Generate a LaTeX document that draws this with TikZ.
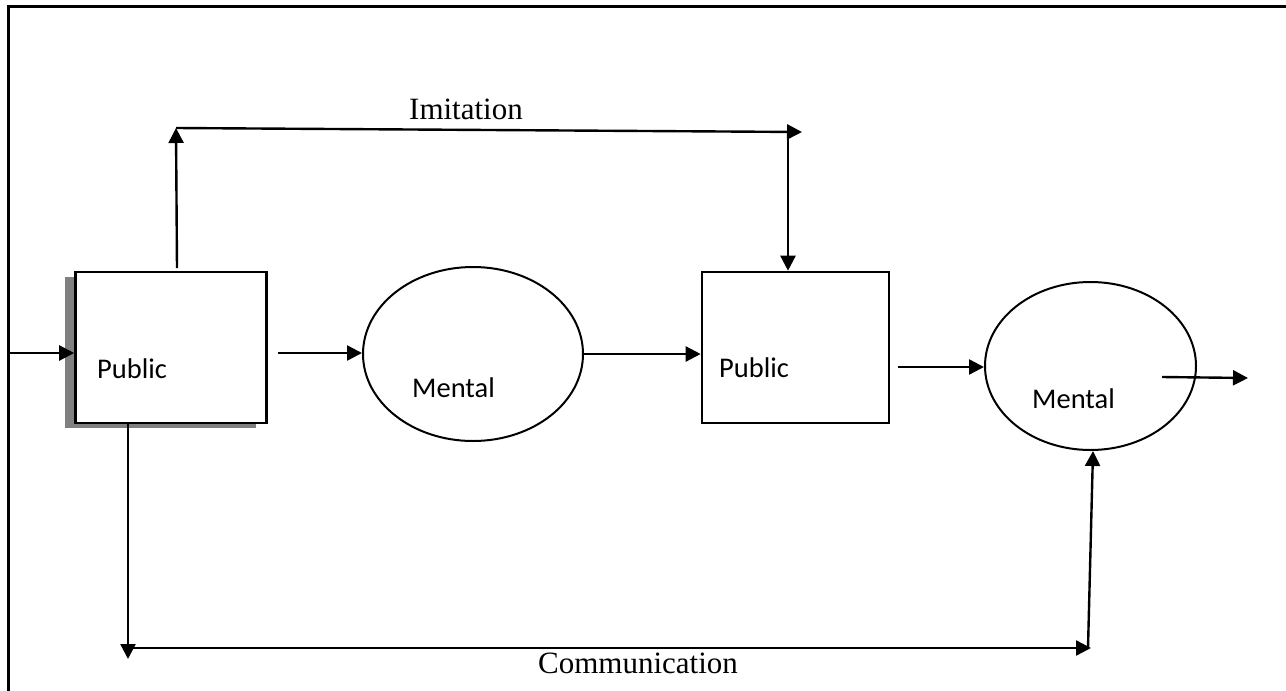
\documentclass[tikz,border=0pt]{standalone}
\usepackage{fontspec}
\setmainfont{Liberation Serif}
\newfontfamily\carlfont{Carlito}
\usetikzlibrary{arrows.meta,shapes.geometric,calc}
\definecolor{shadowgray}{RGB}{128,128,128}
\tikzset{
  conn/.style={line width=2.4pt,-{Triangle[length=15pt,width=15pt]}},
  pubbox/.style={draw,line width=2.6pt,fill=white,rectangle,inner sep=0pt,minimum height=151pt},
  mentalell/.style={draw,line width=2pt,ellipse,inner sep=0pt},
  sanslabel/.style={font=\carlfont\fontsize{28.5}{30}\selectfont,inner sep=0pt,anchor=base west},
  seriflabel/.style={font=\fontsize{31}{33}\selectfont,inner sep=0pt,anchor=base},
}
\begin{document}
\begin{tikzpicture}[x=1pt,y=-1pt]
\useasboundingbox (0,0) rectangle (1286,691);
% frame
\draw[line width=3pt] (8,691) -- (8,6) -- (1286,6);
% shadow and boxes
\fill[shadowgray] (65,277) rectangle (256,428);
\node[pubbox,minimum width=191pt] (b1) at (171,347.5) {};
\node[pubbox,minimum width=187pt] (b2) at (795.5,347.5) {};
\node[mentalell,minimum width=220pt,minimum height=174pt] (e1) at (473,354) {};
\node[mentalell,minimum width=211pt,minimum height=168pt] (e2) at (1090.5,366) {};
% labels
\node[sanslabel] (p1) at (97,378) {Public};
\node[sanslabel] (p2) at (719,377) {Public};
\node[sanslabel] (m1) at (412,397) {Mental};
\node[sanslabel] (m2) at (1032,408) {Mental};
\node[seriflabel] (imit) at (466,119) {Imitation};
\node[seriflabel] (comm) at (638,673) {Communication};
% coordinates
\coordinate (in) at (8,353);
\coordinate (a1) at (278,353);
\coordinate (a3) at (898,367);
\coordinate (o1) at (1162,377);
\coordinate (o2) at (1248,378);
\coordinate (up0) at (177,268);
\coordinate (tl) at (176,128);
\coordinate (tr) at (802,132);
\coordinate (dn) at (788,131);
\coordinate (c0) at (128,423);
\coordinate (cb) at (128,659);
\coordinate (cl) at (129,648);
\coordinate (cr) at (1091,648);
\coordinate (cu) at (1088,648);
\coordinate (ct) at (1093,451);
% connectors
\draw[conn] (in) -- (in -| b1.west);
\draw[conn] (a1) -- (a1 -| e1.west);
\draw[conn] (e1.east) -- (e1.east -| b2.west);
\draw[conn] (a3) -- (a3 -| e2.west);
\draw[conn] (o1) -- (o2);
\draw[conn] (up0) -- (tl);
\draw[conn] (tl) -- (tr);
\draw[conn] (dn) -- (dn |- b2.north);
\draw[conn] (c0) -- (cb);
\draw[conn] (cl) -- (cr);
\draw[conn] (cu) -- (ct);
\end{tikzpicture}
\end{document}
